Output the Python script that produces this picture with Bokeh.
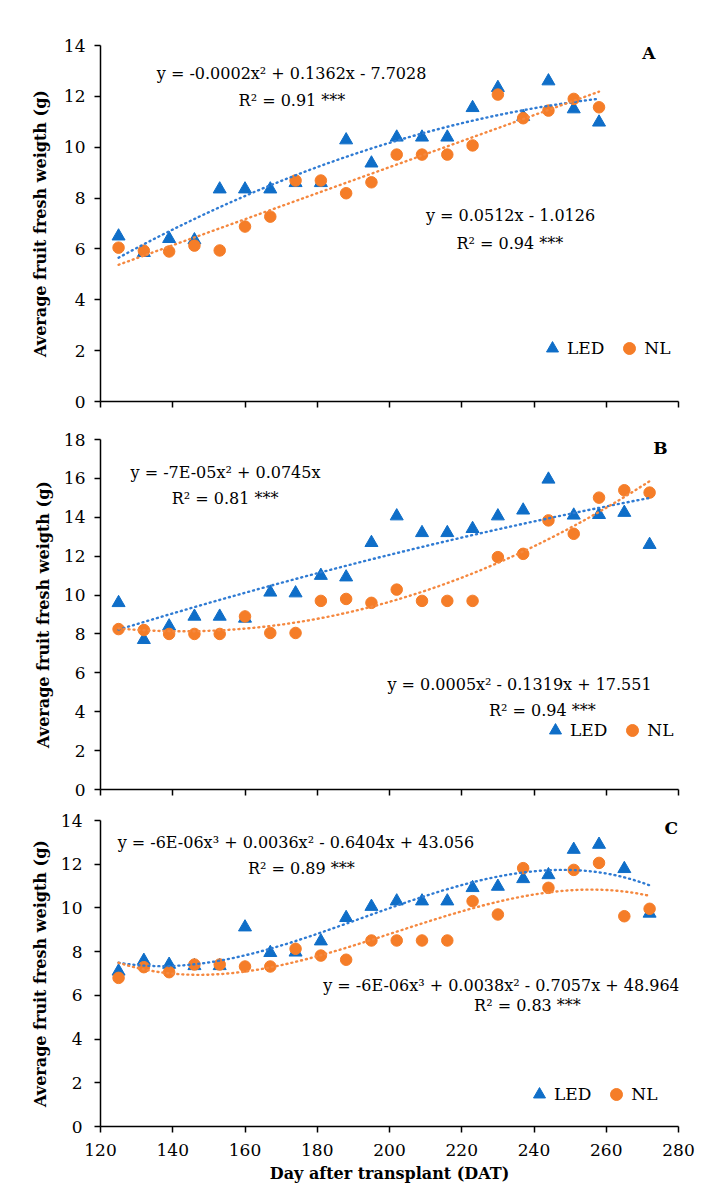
import numpy as np
from bokeh.plotting import figure
from bokeh.models import Range1d, Label, Legend, LegendItem, FixedTicker
from bokeh.layouts import column
from bokeh.embed import file_html
from bokeh.resources import INLINE

FONT = "DejaVu Serif"
BLUE = "#0F6EC8"
ORANGE = "#F57D28"
BLUE_L = "#2F7BD3"
ORANGE_L = "#F5883F"

# ---------------- data ----------------
x_ticks = [120, 140, 160, 180, 200, 220, 240, 260, 280]

days_a = [125, 132, 139, 146, 153, 160, 167, 174, 181, 188,
          195, 202, 209, 216, 223, 230, 237, 244, 251, 258]
led_a = [6.5, 5.85, 6.4, 6.35, 8.35, 8.35, 8.35, 8.6, 8.6, 10.28,
         9.37, 10.39, 10.39, 10.39, 11.55, 12.34, 11.2, 12.6, 11.5, 10.98]
nl_a = [6.05, 5.93, 5.9, 6.13, 5.94, 6.88, 7.27, 8.69, 8.69, 8.19,
        8.62, 9.71, 9.71, 9.71, 10.07, 12.07, 11.14, 11.44, 11.9, 11.57]

days_b = [125, 132, 139, 146, 153, 160, 167, 174, 181, 188, 195,
          202, 209, 216, 223, 230, 237, 244, 251, 258, 265, 272]
led_b = [9.6, 7.7, 8.4, 8.9, 8.9, 8.8, 10.14, 10.1, 11.0, 10.92, 12.69,
         14.06, 13.2, 13.2, 13.41, 14.06, 14.36, 15.95, 14.1, 14.13, 14.24, 12.59]
nl_b = [8.25, 8.2, 8.0, 8.0, 8.0, 8.9, 8.05, 8.05, 9.7, 9.8, 9.6,
        10.28, 9.7, 9.7, 9.7, 11.95, 12.12, 13.84, 13.15, 15.01, 15.39, 15.27]

days_c = [125, 132, 139, 146, 153, 160, 167, 174, 181, 188, 195,
          202, 209, 216, 223, 230, 237, 244, 251, 258, 265, 272]
led_c = [7.1, 7.59, 7.41, 7.35, 7.35, 9.12, 7.95, 7.97, 8.48, 9.55, 10.06,
         10.31, 10.31, 10.31, 10.92, 10.98, 11.33, 11.51, 12.67, 12.9, 11.79, 9.75]
nl_c = [6.8, 7.29, 7.06, 7.41, 7.41, 7.32, 7.32, 8.13, 7.82, 7.63, 8.51,
        8.51, 8.51, 8.51, 10.31, 9.7, 11.82, 10.92, 11.74, 12.06, 9.62, 9.96]

y_label = "Average fruit fresh weigth (g)"
x_label = "Day after transplant (DAT)"


def fit(x, y, deg, origin=False):
    x = np.asarray(x, float)
    y = np.asarray(y, float)
    xs = np.linspace(x.min(), x.max(), 200)
    if origin:
        A = np.vstack([x ** k for k in range(deg, 0, -1)]).T
        coef = np.linalg.lstsq(A, y, rcond=None)[0]
        ys = sum(c * xs ** k for c, k in zip(coef, range(deg, 0, -1)))
    else:
        coef = np.polyfit(x, y, deg)
        ys = np.polyval(coef, xs)
    return xs, ys


def panel(height, ymax, borders, days, led, nl, fits, texts, letter, leg_loc,
          ylab_standoff, tick_standoff, bottom=False):
    bl, br, bt, bb = borders
    p = figure(width=707, height=height, x_range=Range1d(120, 280), y_range=Range1d(0, ymax),
               min_border_left=bl, min_border_right=br, min_border_top=bt, min_border_bottom=bb,
               output_backend="svg", toolbar_location=None, tools="", title=None)
    p.outline_line_color = None
    p.xgrid.visible = False
    p.ygrid.visible = False
    p.background_fill_color = "white"
    p.border_fill_color = "white"

    p.xaxis.ticker = FixedTicker(ticks=x_ticks)
    p.yaxis.ticker = FixedTicker(ticks=list(range(0, ymax + 1, 2)))
    for ax in (p.xaxis, p.yaxis):
        ax.axis_line_color = "black"
        ax.axis_line_width = 1.5
        ax.major_tick_line_color = "black"
        ax.major_tick_line_width = 1.5
        ax.major_tick_in = 0
        ax.major_tick_out = 6
        ax.minor_tick_line_color = None
        ax.major_label_text_font = FONT
        ax.major_label_text_color = "black"
        ax.axis_label_text_font = FONT
        ax.axis_label_text_font_style = "bold"
        ax.axis_label_text_color = "black"
        ax.axis_label_text_font_size = "16px"
    p.yaxis.major_label_text_font_size = "17px"
    p.yaxis.major_label_standoff = tick_standoff
    p.yaxis.axis_label = y_label
    p.yaxis.axis_label_standoff = ylab_standoff
    if bottom:
        p.xaxis.major_label_text_font_size = "17px"
        p.xaxis.major_label_standoff = 11
        p.xaxis.axis_label = x_label
        p.xaxis.axis_label_standoff = 5
    else:
        # ticks only, no visible labels on the upper panels
        p.xaxis.major_label_text_font_size = "1px"
        p.xaxis.major_label_text_color = None
        p.xaxis.major_label_standoff = 0

    r_led = p.scatter(days, led, marker="triangle", size=13, fill_color=BLUE, line_color=BLUE)
    r_nl = p.scatter(days, nl, marker="circle", size=11.5, fill_color=ORANGE, line_color=ORANGE)

    (deg_l, orig_l), (deg_n, orig_n) = fits
    xs, ys = fit(days, led, deg_l, orig_l)
    p.line(xs, ys, line_color=BLUE_L, line_width=2.4, line_dash="1 4", line_cap="round")
    xs, ys = fit(days, nl, deg_n, orig_n)
    p.line(xs, ys, line_color=ORANGE_L, line_width=2.4, line_dash="1 4", line_cap="round")

    for (tx, ty, t) in texts:
        p.add_layout(Label(x=tx, y=ty, text=t, text_align="center", text_baseline="middle",
                           text_font=FONT, text_font_size="16px", text_color="black"))
    p.add_layout(Label(x=letter[0], y=letter[1], text=letter[2], text_align="center",
                       text_baseline="middle", text_font=FONT, text_font_size="17px",
                       text_font_style="bold", text_color="black"))

    legend = Legend(items=[LegendItem(label="LED", renderers=[r_led]),
                           LegendItem(label="NL", renderers=[r_nl])],
                    orientation="horizontal", location=leg_loc,
                    glyph_width=30, glyph_height=30, label_standoff=0, spacing=10,
                    padding=0, margin=0, border_line_color=None, background_fill_alpha=0,
                    label_text_font=FONT, label_text_font_size="17px", label_text_color="black")
    p.add_layout(legend)
    return p


pA = panel(420, 14, (96, 29, 45, 19), days_a, led_a, nl_a, [(2, False), (1, False)],
           [(172.9, 12.9, "y = -0.0002x² + 0.1362x - 7.7028"),
            (173.0, 11.84, "R² = 0.91 ***"),
            (233.5, 7.31, "y = 0.0512x - 1.0126"),
            (233.3, 6.23, "R² = 0.94 ***")],
           (271.8, 13.72, "A"), (437, 38), ylab_standoff=11, tick_standoff=9)

pB = panel(380, 18, (96, 29, 19, 11), days_b, led_b, nl_b, [(2, True), (2, False)],
           [(154.6, 16.32, "y = -7E-05x² + 0.0745x"),
            (154.5, 14.98, "R² = 0.81 ***"),
            (236.0, 5.4, "y = 0.0005x² - 0.1319x + 17.551"),
            (242.3, 4.06, "R² = 0.94 ***")],
           (275.0, 17.54, "B"), (440, 44), ylab_standoff=8, tick_standoff=9)

pC = panel(391, 14, (100, 23, 20, 65), days_c, led_c, nl_c, [(3, False), (3, False)],
           [(174.1, 13.0, "y = -6E-06x³ + 0.0036x² - 0.6404x + 43.056"),
            (175.6, 11.8, "R² = 0.89 ***"),
            (231.0, 6.45, "y = -6E-06x³ + 0.0038x² - 0.7057x + 48.964"),
            (238.2, 5.54, "R² = 0.83 ***")],
           (278.0, 13.66, "C"), (424, 17), ylab_standoff=8, tick_standoff=12, bottom=True)

layout = column(pA, pB, pC, spacing=0)
open("out.html", "w").write(file_html(layout, INLINE))
